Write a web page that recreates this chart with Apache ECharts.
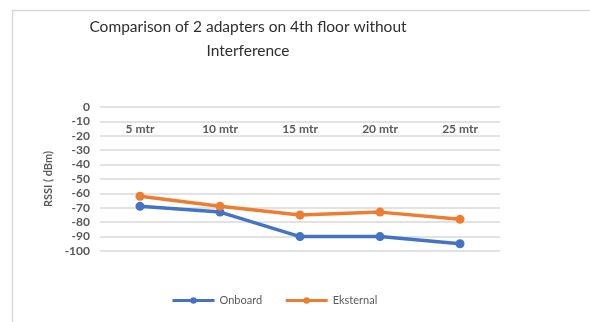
<!DOCTYPE html>
<html>
<head>
<meta charset="utf-8">
<script src="https://cdn.jsdelivr.net/npm/echarts@6/dist/echarts.min.js"></script>
<style>
  html, body { margin: 0; padding: 0; background: #ffffff; }
  #chart { width: 590px; height: 322px; }
</style>
</head>
<body>
<div id="chart"></div>
<script>
// Distances at which signal strength was measured
const categories = ['5 mtr', '10 mtr', '15 mtr', '20 mtr', '25 mtr'];
// RSSI readings (dBm) per adapter
const onboard = [-69, -73, -90, -90, -95];
const external = [-62, -69, -75, -73, -78];
const seriesNames = ['Onboard', 'Eksternal'];
const titleLines = ['Comparison of 2 adapters on 4th floor without', 'Interference'];
const yAxisName = 'RSSI ( dBm)';

const FONT = 'Lato, "Open Sans", sans-serif';
const titleStyle = {
  fontFamily: FONT,
  fontSize: 15.5,
  fontWeight: 'normal',
  color: '#2e2e2e'
};

const chart = echarts.init(document.getElementById('chart'), null, { renderer: 'canvas' });

chart.setOption({
  animation: false,
  backgroundColor: '#ffffff',
  graphic: [{
    type: 'rect',
    shape: { x: 12.5, y: 10.5, width: 640, height: 400 },
    style: { fill: 'none', stroke: '#d9d9d9', lineWidth: 1.5 },
    silent: true,
    z: -1
  }],
  title: titleLines.map((t, i) => ({
    text: t,
    left: 243,
    textAlign: 'center',
    top: 14 + i * 24,
    textStyle: titleStyle
  })),
  grid: { left: 100, right: 90, top: 107, bottom: 71 },
  legend: {
    data: seriesNames,
    left: 166,
    top: 290,
    itemWidth: 42,
    itemHeight: 8,
    itemGap: 22,
    lineStyle: { width: 3 },
    textStyle: { fontFamily: FONT, fontSize: 11, color: '#595959' }
  },
  xAxis: {
    type: 'category',
    position: 'top',
    data: categories,
    boundaryGap: true,
    axisLine: { show: false },
    axisTick: { show: false },
    axisLabel: {
      inside: true,
      margin: 16,
      fontFamily: FONT,
      fontSize: 12,
      fontWeight: 'bold',
      color: '#595959'
    },
    splitLine: { show: false }
  },
  yAxis: {
    type: 'value',
    min: -100,
    max: 0,
    interval: 10,
    name: yAxisName,
    nameLocation: 'middle',
    nameGap: 37,
    nameTextStyle: { fontFamily: FONT, fontSize: 11, fontWeight: 'bold', color: '#595959' },
    axisLine: { show: false },
    axisTick: { show: false },
    axisLabel: {
      margin: 10,
      fontFamily: FONT,
      fontSize: 12,
      fontWeight: 'bold',
      color: '#595959'
    },
    splitLine: { lineStyle: { color: '#d9d9d9', width: 1.5 } }
  },
  series: [
    {
      name: seriesNames[0],
      type: 'line',
      data: onboard,
      symbol: 'circle',
      symbolSize: 9,
      color: '#4472c4',
      lineStyle: { width: 3.5, color: '#4472c4' },
      itemStyle: { color: '#4472c4' }
    },
    {
      name: seriesNames[1],
      type: 'line',
      data: external,
      symbol: 'circle',
      symbolSize: 9,
      color: '#ed7d31',
      lineStyle: { width: 3.5, color: '#ed7d31' },
      itemStyle: { color: '#ed7d31' }
    }
  ]
});
</script>
</body>
</html>
